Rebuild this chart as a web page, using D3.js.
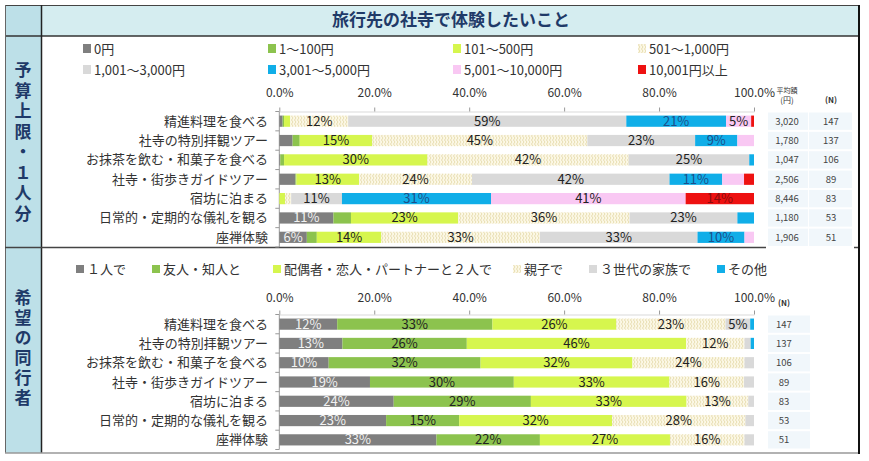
<!DOCTYPE html>
<html>
<head>
<meta charset="utf-8">
<script src="https://cdn.jsdelivr.net/npm/d3@7"></script>
<style>
  body { margin: 0; background: #fff; }
  svg { font-family: 'Noto Sans CJK JP', 'Noto Sans', sans-serif; }
</style>
</head>
<body>
<svg id="chart" width="869" height="461"></svg>
<script>
// categories
const activities = ['精進料理を食べる', '社寺の特別拝観ツアー', 'お抹茶を飲む・和菓子を食べる',
  '社寺・街歩きガイドツアー', '宿坊に泊まる', '日常的・定期的な儀礼を観る', '座禅体験'];

// budget per person (%)
const budgetKeys = ['0円', '1～100円', '101～500円', '501～1,000円',
  '1,001～3,000円', '3,001～5,000円', '5,001～10,000円', '10,001円以上'];
const yen0     = [0.7, 2.8, 0.2, 3.4, 0, 11.4, 5.8];
const yen100   = [0.3, 1.5, 0.8, 0.2, 0, 3.7, 2.1];
const yen500   = [1.3, 15.3, 30.2, 13.2, 1.2, 22.6, 13.6];
const yen1000  = [12.2, 45.3, 42.4, 23.8, 1.3, 36.1, 33.4];
const yen3000  = [58.6, 22.7, 25.4, 41.6, 10.7, 22.7, 33.2];
const yen5000  = [21.0, 8.9, 1.0, 11.1, 31.4, 3.5, 9.9];
const yen10000 = [5.3, 3.5, 0, 4.6, 41.0, 0, 2.0];
const yenOver  = [0.6, 0, 0, 2.1, 14.4, 0, 0];
const avgYen   = ['3,020', '1,780', '1,047', '2,506', '8,446', '1,180', '1,906'];
const budgetN  = [147, 137, 106, 89, 83, 53, 51];

// companions (%)
const companionKeys = ['１人で', '友人・知人と', '配偶者・恋人・パートナーと２人で', '親子で', '３世代の家族で', 'その他'];
const alone       = [12.2, 13.3, 10.4, 19.1, 24.1, 22.5, 33.1];
const friends     = [32.7, 26.2, 32.0, 30.3, 28.9, 15.4, 21.8];
const couple      = [26.1, 46.2, 32.0, 32.8, 32.8, 32.2, 27.4];
const parentChild = [23.0, 12.3, 23.6, 15.7, 13.0, 28.1, 15.7];
const threeGen    = [5.2, 1.3, 2.0, 2.1, 1.2, 1.8, 2.0];
const other       = [0.8, 0.7, 0, 0, 0, 0, 0];
const companionN  = [147, 137, 106, 89, 83, 53, 51];

const tickValues = [0, 20, 40, 60, 80, 100];

const budgetSeries = [yen0, yen100, yen500, yen1000, yen3000, yen5000, yen10000, yenOver];
const companionSeries = [alone, friends, couple, parentChild, threeGen, other];

const budgetColors = ['#7f7f7f', '#8cc34e', '#d6f64e', 'url(#zig)', '#d9d9d9', '#10aee8', '#f9c8f3', '#ee1111'];
const companionColors = ['#7f7f7f', '#8cc34e', '#d6f64e', 'url(#zig)', '#d9d9d9', '#10aee8'];
const navy = '#1f3a68';

const svg = d3.select('#chart');

// zigzag fill
const pat = svg.append('defs').append('pattern')
  .attr('id', 'zig').attr('width', 3).attr('height', 4)
  .attr('patternUnits', 'userSpaceOnUse');
pat.append('rect').attr('width', 3).attr('height', 4).attr('fill', '#fcf8e6');
pat.append('path').attr('d', 'M0.5,0 L2,2 L0.5,4').attr('fill', 'none')
  .attr('stroke', '#e2d6a2').attr('stroke-width', 0.8);

// frame
svg.append('rect').attr('x', 42).attr('y', 5).attr('width', 818).attr('height', 31)
  .attr('fill', '#d5edf0');
svg.append('rect').attr('x', 5).attr('y', 5).attr('width', 37).attr('height', 448)
  .attr('fill', '#bde0e8');
svg.append('line').attr('x1', 5).attr('x2', 860).attr('y1', 5.5).attr('y2', 5.5)
  .attr('stroke', '#444').attr('stroke-width', 1);
svg.append('line').attr('x1', 5).attr('x2', 860).attr('y1', 36).attr('y2', 36)
  .attr('stroke', '#333').attr('stroke-width', 1.5);
svg.append('line').attr('x1', 5.5).attr('x2', 5.5).attr('y1', 5).attr('y2', 453)
  .attr('stroke', '#666').attr('stroke-width', 1);
svg.append('line').attr('x1', 41.5).attr('x2', 41.5).attr('y1', 5).attr('y2', 453)
  .attr('stroke', '#222').attr('stroke-width', 1.5);
svg.append('line').attr('x1', 5).attr('x2', 766).attr('y1', 247.5).attr('y2', 247.5)
  .attr('stroke', '#444').attr('stroke-width', 1.5);
svg.append('line').attr('x1', 854).attr('x2', 860).attr('y1', 247.5).attr('y2', 247.5)
  .attr('stroke', '#444').attr('stroke-width', 1.5);
svg.append('line').attr('x1', 5).attr('x2', 860).attr('y1', 453).attr('y2', 453)
  .attr('stroke', '#999').attr('stroke-width', 1.5);
svg.append('line').attr('x1', 859).attr('x2', 859).attr('y1', 5).attr('y2', 454)
  .attr('stroke', '#111').attr('stroke-width', 2);

svg.append('text').attr('x', 451).attr('y', 26).attr('text-anchor', 'middle')
  .attr('font-size', 17).attr('font-weight', 'bold').attr('fill', navy)
  .text('旅行先の社寺で体験したいこと');

// side labels written vertically
function verticalLabel(str, yTop, spacing) {
  svg.append('text')
    .attr('x', 23).attr('y', yTop)
    .style('writing-mode', 'vertical-rl')
    .style('letter-spacing', spacing + 'px')
    .attr('font-size', 17).attr('font-weight', 'bold')
    .attr('fill', navy).text(str);
}
verticalLabel('予算上限・１人分', 61.5, 3.5);
verticalLabel('希望の同行者', 289.5, 3);

const x = d3.scaleLinear().domain([0, 100]).range([279.3, 754]);

function panel(opts) {
  const { series, keys, colors, top, bottom, tickPad } = opts;
  const rows = activities.map((a, i) => {
    const r = { name: a };
    keys.forEach((k, j) => { r[k] = series[j][i]; });
    return r;
  });
  const y = d3.scaleBand().domain(activities).range([top, bottom])
    .paddingInner(0.42).paddingOuter(0.21);
  const stacked = d3.stack().keys(keys)(rows);
  const g = svg.append('g');

  // axes
  const ax = g.append('g').attr('transform', `translate(0,${top})`)
    .call(d3.axisTop(x).tickValues(tickValues).tickSize(4).tickSizeOuter(0)
      .tickPadding(tickPad).tickFormat(d => d.toFixed(1) + '%'));
  ax.select('.domain').attr('stroke', '#d9d9d9');
  ax.selectAll('.tick line').attr('stroke', '#999');
  ax.selectAll('.tick text').attr('font-size', 12).attr('fill', '#333')
    .attr('font-family', "'Noto Sans CJK JP', sans-serif");

  g.append('line').attr('x1', x(0)).attr('x2', x(0)).attr('y1', top).attr('y2', bottom)
    .attr('stroke', '#999');
  g.append('g').selectAll('line').data(d3.range(activities.length + 1)).join('line')
    .attr('x1', x(0) - 4).attr('x2', x(0))
    .attr('y1', i => top + i * y.step()).attr('y2', i => top + i * y.step())
    .attr('stroke', '#999');

  g.append('g').selectAll('text').data(activities).join('text')
    .attr('x', 268).attr('y', d => y(d) + y.bandwidth() / 2 + 4.5)
    .attr('text-anchor', 'end').attr('font-size', 13).attr('fill', '#333')
    .text(d => d);

  stacked.forEach((s, si) => {
    const lg = g.append('g');
    lg.selectAll('rect').data(s).join('rect')
      .attr('x', d => x(d[0])).attr('width', d => x(d[1]) - x(d[0]))
      .attr('y', d => y(d.data.name)).attr('height', y.bandwidth())
      .attr('fill', colors[si]);
    lg.selectAll('text').data(s.filter(d => d[1] - d[0] >= 5)).join('text')
      .attr('x', d => (x(d[0]) + x(d[1])) / 2)
      .attr('y', d => y(d.data.name) + y.bandwidth() / 2 + 4.5)
      .attr('text-anchor', 'middle').attr('font-size', 13)
      .attr('fill', si === 0 ? '#f2f2f2' : (colors[si] === '#10aee8' ? '#1d4f8a' : (colors[si] === '#ee1111' ? '#8a0d0d' : '#222')))
      .text(d => Math.round(d[1] - d[0]) + '%');
  });
  return y;
}

// budget panel
const yTop = panel({ series: budgetSeries, keys: budgetKeys, colors: budgetColors,
  top: 111.5, bottom: 247, tickPad: 11 });

const legTop = svg.append('g').selectAll('g').data(budgetKeys).join('g')
  .attr('transform', (d, i) => `translate(${83 + (i % 4) * 185},${i < 4 ? 49 : 70})`);
legTop.append('rect').attr('x', 0).attr('y', -5).attr('width', 8).attr('height', 9)
  .attr('fill', (d, i) => budgetColors[i]);
legTop.append('text').attr('x', 11).attr('y', 4.5).attr('font-size', 13).attr('fill', '#333')
  .text(d => d);

// avg / N columns
svg.append('text').attr('x', 787).attr('y', 93).attr('text-anchor', 'middle')
  .attr('font-size', 7).attr('fill', '#333').text('平均額');
svg.append('text').attr('x', 787).attr('y', 103).attr('text-anchor', 'middle')
  .attr('font-size', 8).attr('fill', '#333').text('(円)');
svg.append('text').attr('x', 831).attr('y', 103).attr('text-anchor', 'middle')
  .attr('font-size', 8).attr('font-weight', 'bold').attr('fill', '#333').text('(N)');

function valueColumn(values, y, cx, x0, w) {
  const g = svg.append('g');
  g.selectAll('rect').data(activities).join('rect')
    .attr('x', x0).attr('width', w)
    .attr('y', d => y(d) - (y.step() - y.bandwidth()) / 2 + 1).attr('height', y.step() - 2)
    .attr('fill', '#f1f7fb');
  g.selectAll('text').data(values).join('text')
    .attr('x', cx).attr('y', (d, i) => y(activities[i]) + y.bandwidth() / 2 + 3.5)
    .attr('text-anchor', 'middle').attr('font-size', 9.5).attr('fill', '#444')
    .text(d => d);
}
valueColumn(avgYen, yTop, 787, 768, 40);
valueColumn(budgetN, yTop, 831, 809, 43);

// companion panel
const yBot = panel({ series: companionSeries, keys: companionKeys, colors: companionColors,
  top: 314.5, bottom: 449.5, tickPad: 9 });

const legPos = [76, 152, 273, 513, 589, 717];
const legBot = svg.append('g').selectAll('g').data(companionKeys).join('g')
  .attr('transform', (d, i) => `translate(${legPos[i]},269)`);
legBot.append('rect').attr('x', 0).attr('y', -4).attr('width', 8).attr('height', 8)
  .attr('fill', (d, i) => companionColors[i]);
legBot.append('text').attr('x', 11).attr('y', 4.5).attr('font-size', 13).attr('fill', '#333')
  .text(d => d);

svg.append('text').attr('x', 784).attr('y', 306).attr('text-anchor', 'middle')
  .attr('font-size', 8).attr('font-weight', 'bold').attr('fill', '#333').text('(N)');
valueColumn(companionN, yBot, 784, 768, 42);
</script>
</body>
</html>
